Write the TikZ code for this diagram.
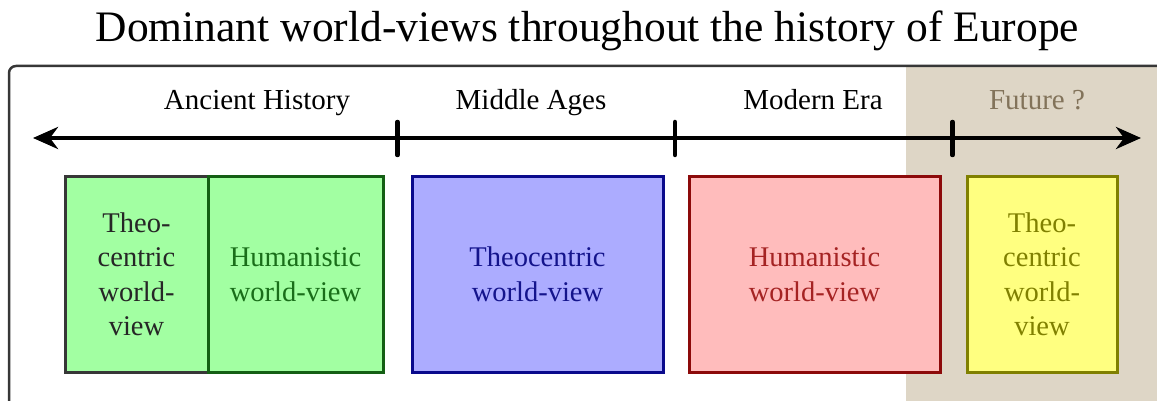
\documentclass[tikz,border=0pt]{standalone}
\usepackage{fontspec}
\setmainfont{Liberation Serif}
\usetikzlibrary{arrows.meta}
\definecolor{gfill}{RGB}{162,255,162}
\definecolor{gdraw}{RGB}{20,95,20}
\definecolor{gtext}{RGB}{25,110,25}
\definecolor{bfill}{RGB}{172,172,255}
\definecolor{bdraw}{RGB}{10,10,140}
\definecolor{btext}{RGB}{20,20,140}
\definecolor{rfill}{RGB}{255,188,188}
\definecolor{rdraw}{RGB}{140,10,10}
\definecolor{rtext}{RGB}{165,35,35}
\definecolor{yfill}{RGB}{255,255,128}
\definecolor{ydraw}{RGB}{128,128,0}
\definecolor{ytext}{RGB}{128,128,0}
\definecolor{beige}{RGB}{222,214,198}
\definecolor{futtext}{RGB}{130,115,90}
\definecolor{framec}{RGB}{55,55,55}
\tikzset{
  era/.style={font=\fontsize{29}{34}\selectfont, inner sep=0pt, anchor=base},
  wvbox/.style={line width=3pt, minimum height=195pt, inner sep=0pt, align=center,
    font=\fontsize{28.5}{34.5}\selectfont},
  tick/.style={line width=4.5pt, line cap=round},
}
\begin{document}
\begin{tikzpicture}[x=1pt,y=-1pt]
\useasboundingbox (0,0) rectangle (1157,401);
\begin{scope}
\clip (0,0) rectangle (1157,401);
\fill[beige] (906,66) rectangle (1170,420);
\draw[framec, line width=2.5pt, rounded corners=7pt] (9,66) rectangle (1180,430);
\end{scope}
\node[font=\fontsize{43.5}{50}\selectfont, inner sep=0pt, anchor=base] (title) at (587.5,42) {Dominant world-views throughout the history of Europe};
% timeline
\coordinate (tl) at (33,138);
\coordinate (tr) at (1141,138);
\draw[line width=4.5pt, {Stealth[length=25pt,width=22pt,inset=8pt]}-{Stealth[length=25pt,width=22pt,inset=8pt]}] (tl) -- (tr);
\coordinate (t1a) at (397.5,122); \coordinate (t1b) at (397.5,155);
\coordinate (t2a) at (675,122); \coordinate (t2b) at (675,155);
\coordinate (t3a) at (952.5,122); \coordinate (t3b) at (952.5,155);
\draw[tick] (t1a) -- (t1b);
\draw[tick] (t2a) -- (t2b);
\draw[tick] (t3a) -- (t3b);
% era labels
\node[era] (ancient) at (257,110) {Ancient History};
\node[era] (middle) at (531,110) {Middle Ages};
\node[era] (modern) at (813,110) {Modern Era};
\node[era, text=futtext] (future) at (1037,110) {Future ?};
% boxes
\node[wvbox, draw=framec, fill=gfill, text=black!85, minimum width=143pt] (b1) at (136.5,274.5) {Theo-\\centric\\world-\\view};
\node[wvbox, draw=gdraw, fill=gfill, text=gtext, minimum width=175pt] (b2) at (295.5,274.5) {Humanistic\\world-view};
\node[wvbox, draw=bdraw, fill=bfill, text=btext, minimum width=251pt] (b3) at (537.5,274.5) {Theocentric\\world-view};
\node[wvbox, draw=rdraw, fill=rfill, text=rtext, minimum width=251pt] (b4) at (814.5,274.5) {Humanistic\\world-view};
\node[wvbox, draw=ydraw, fill=yfill, text=ytext, minimum width=150pt] (b5) at (1042,274.5) {Theo-\\centric\\world-\\view};
\end{tikzpicture}
\end{document}
